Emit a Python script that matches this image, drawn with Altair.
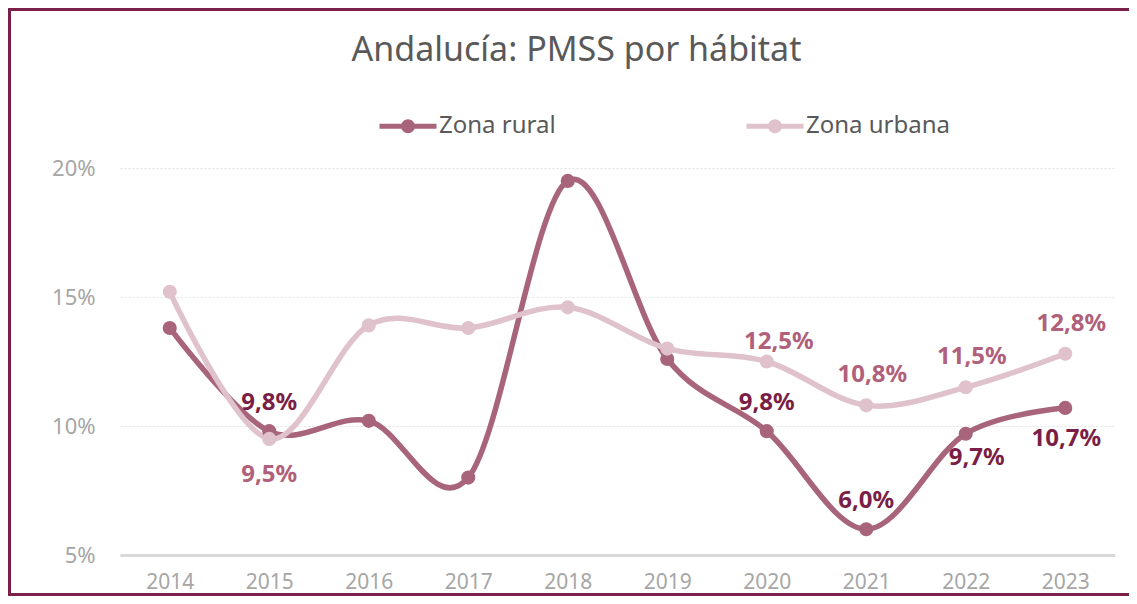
import altair as alt
import pandas as pd
import json

years = ["2014", "2015", "2016", "2017", "2018", "2019", "2020", "2021", "2022", "2023"]
series = ["Zona rural", "Zona urbana"]
rural = [13.8, 9.8, 10.2, 8.0, 19.5, 12.6, 9.8, 6.0, 9.7, 10.7]
urbana = [15.2, 9.5, 13.9, 13.8, 14.6, 13.0, 12.5, 10.8, 11.5, 12.8]
y_ticks = [5, 10, 15, 20]
line_colors = ["#A8647A", "#DFC2CB"]
label_colors = ["#7B1E45", "#B0607A"]

rows = []
for s, vals in zip(series, [rural, urbana]):
    for y, v in zip(years, vals):
        rows.append({"year": y, "serie": s, "value": v})
df = pd.DataFrame(rows)

FONT = "Noto Sans"

x = alt.X("year:O", title=None,
          scale=alt.Scale(type="point", padding=0.5),
          axis=alt.Axis(labelAngle=0, labelFontSize=21, labelColor="#A6A6A6", labelFont=FONT,
                        ticks=False, domainColor="#D9D9D9", domainWidth=3, labelPadding=16,
                        grid=False))
y = alt.Y("value:Q", title=None,
          scale=alt.Scale(domain=[5, 20], nice=False, zero=False),
          axis=alt.Axis(values=y_ticks, labelExpr="datum.value + '%'", labelFontSize=22,
                        labelColor="#A6A6A6", labelFont=FONT, ticks=False, domain=False,
                        labelPadding=25, gridColor="#E3E3E3", gridDash=[2, 2], gridWidth=1))

legend = alt.Legend(title=None, orient="none", legendX=257, legendY=-73,
                    direction="horizontal", columns=2, columnPadding=180,
                    symbolType=("M-1,0 L1,0 M-0.158,0 A0.158,0.158 0 1,0 0.158,0 "
                                "A0.158,0.158 0 1,0 -0.158,0 M-0.07,0 A0.07,0.07 0 1,0 0.07,0 "
                                "A0.07,0.07 0 1,0 -0.07,0"),
                    symbolSize=3249, symbolStrokeWidth=5, symbolOpacity=1,
                    labelFontSize=24, labelColor="#595959", labelFont=FONT,
                    labelOffset=0)
color = alt.Color("serie:N", scale=alt.Scale(domain=series, range=line_colors), legend=legend)

base = alt.Chart(df)

lines = base.mark_line(interpolate="cardinal", strokeWidth=5.5, strokeCap="round").encode(
    x=x, y=y, color=color)

points = base.mark_circle(size=200, opacity=1).encode(x=x, y=y, color=color)


def label_layer(serie, sel_years, dx, dy, col):
    cond = "datum.serie == '%s' && indexof(%s, datum.year) >= 0" % (serie, json.dumps(sel_years))
    return base.transform_filter(cond).transform_calculate(
        lab="replace(format(datum.value, '.1f'), '.', ',') + '%'"
    ).mark_text(font=FONT, fontSize=24, fontWeight="bold", color=col, dx=dx, dy=dy,
                baseline="middle", align="center").encode(x=x, y=y, text="lab:N")


labels = [
    label_layer("Zona rural", ["2015", "2020", "2021"], 0, -28, label_colors[0]),
    label_layer("Zona rural", ["2022"], 11, 24, label_colors[0]),
    label_layer("Zona rural", ["2023"], 1, 31, label_colors[0]),
    label_layer("Zona urbana", ["2015"], 0, 36, label_colors[1]),
    label_layer("Zona urbana", ["2020"], 12, -20, label_colors[1]),
    label_layer("Zona urbana", ["2021", "2022", "2023"], 6, -30, label_colors[1]),
]

one = alt.Data(values=[{"a": 1}])
FRAME = "#7B2048"
frame_left = alt.Chart(one).mark_rule(color=FRAME, strokeWidth=3).encode(
    x=alt.value(-110.5), y=alt.value(-160), y2=alt.value(428))
frame_top = alt.Chart(one).mark_rule(color=FRAME, strokeWidth=3).encode(
    x=alt.value(-112), x2=alt.value(1009), y=alt.value(-158.5))
frame_bottom = alt.Chart(one).mark_rule(color=FRAME, strokeWidth=3).encode(
    x=alt.value(-112), x2=alt.value(1009), y=alt.value(426.5))

chart = alt.layer(frame_left, frame_top, frame_bottom, lines, points, *labels).properties(
    width=995, height=387,
    padding={"left": 112, "top": 160, "right": 14, "bottom": 41},
    autosize=alt.AutoSizeParams(type="none"),
    background="white",
    title=alt.TitleParams("Andalucía: PMSS por hábitat", fontSize=34, color="#595959",
                          font=FONT, fontWeight="normal", anchor="middle", frame="group",
                          baseline="alphabetic", dx=-41, offset=-88),
).configure_view(strokeWidth=0, stroke="transparent")

chart.save("out.html", embed_options={"renderer": "svg", "actions": False})
